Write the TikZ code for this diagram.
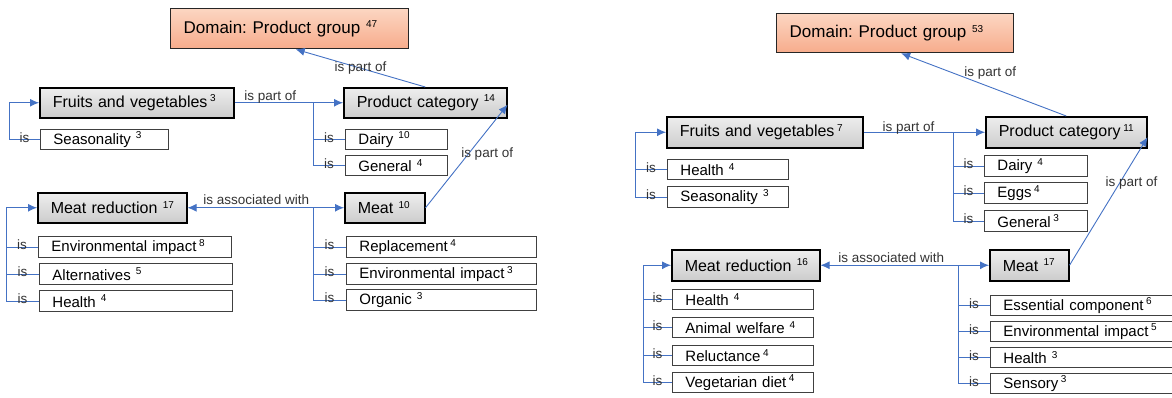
\documentclass[tikz,border=0pt]{standalone}
\usepackage{fontspec}
\setmainfont{Liberation Sans}
\usetikzlibrary{arrows.meta}
\definecolor{linkblue}{RGB}{68,114,196}
\definecolor{cattop}{RGB}{238,238,238}
\definecolor{catbot}{RGB}{204,204,204}
\definecolor{domtop}{RGB}{252,214,194}
\definecolor{dombot}{RGB}{247,172,140}
\tikzset{
  catbox/.style={draw=black, line width=1.5pt, top color=cattop, bottom color=catbot,
    font=\fontsize{16}{18}\selectfont, inner xsep=13pt, inner ysep=0pt, align=left},
  itembox/.style={draw=black!75, line width=0.9pt, fill=white,
    font=\fontsize{15}{17}\selectfont, inner xsep=13pt, inner ysep=0pt, align=left},
  dombox/.style={draw=black!85, line width=1.3pt, top color=domtop, bottom color=dombot,
    font=\fontsize{17}{19}\selectfont, inner xsep=13pt, inner ysep=0pt, align=left},
  link/.style={draw=linkblue, line width=0.9pt},
  ctip/.tip={Latex[length=9pt,width=8pt]},
  lab/.style={font=\fontsize{13.5}{15}\selectfont, text=black!80, inner sep=0pt},
  islab/.style={lab, anchor=base, yshift=-3pt},
  hlab/.style={lab, anchor=base},
}
% box from corner (#3,#4) to corner (#5,#6), text set flush left on one line
\newcommand{\conceptbox}[7]{%
  \pgfmathsetmacro{\bw}{#5-#3}\pgfmathsetmacro{\bh}{#6-#4}%
  \pgfmathsetmacro{\tw}{#5-#3-26}%
  \node[#1, anchor=north west, minimum width=\bw pt, minimum height=\bh pt,
    text width=\tw pt] (#2) at (#3,#4) {\mbox{#7}};}
\newcommand{\freq}[1]{\raisebox{5.5pt}{\fontsize{10}{10}\selectfont #1}}

\begin{document}
\frenchspacing
\begin{tikzpicture}[x=1pt, y=-1pt]
  \clip (0,0) rectangle (1172,397);
  % ---- left map ----
  \conceptbox{dombox}{dom1}{170}{8}{408}{48}{Domain: Product group \freq{47}}
  \conceptbox{catbox}{fv1}{39}{87}{233}{117}{Fruits and vegetables\,\freq{3}}
  \conceptbox{catbox}{pc1}{343}{87}{506}{117}{Product category \freq{14}}
  \conceptbox{itembox}{sea1}{40}{129}{168}{149}{Seasonality \freq{3}}
  \conceptbox{itembox}{dai1}{345}{129}{447}{149}{Dairy \freq{10}}
  \conceptbox{itembox}{gen1}{345}{155}{447}{175}{General \freq{4}}
  \conceptbox{catbox}{mr1}{37}{192}{186}{222}{Meat reduction \freq{17}}
  \conceptbox{catbox}{meat1}{344}{192}{424}{222}{Meat \freq{10}}
  \conceptbox{itembox}{env1}{38}{236}{231}{257}{Environmental impact\,\freq{8}}
  \conceptbox{itembox}{alt1}{39}{263}{232}{284}{Alternatives \freq{5}}
  \conceptbox{itembox}{hea1}{39}{290}{232}{311}{Health \freq{4}}
  \conceptbox{itembox}{rep1}{346}{236}{536}{257}{Replacement\,\freq{4}}
  \conceptbox{itembox}{envm1}{346}{263}{536}{284}{Environmental impact\,\freq{3}}
  \conceptbox{itembox}{org1}{346}{289}{536}{310}{Organic \freq{3}}
  \coordinate (sp1) at (9,0);
  \coordinate (sp2) at (313,0);
  \coordinate (sp3) at (6,0);
  % links
  \draw[link,-ctip] (pc1.north) -- node[lab,pos=.5]{is part of} ([xshift=6pt]dom1.south);
  \draw[link,-ctip] (fv1.east) -- node[hlab,pos=.33,yshift=2pt]{is part of} (pc1.west);
  \draw[link,-ctip] (sea1.west) -- node[islab]{is} (sea1.west -| sp1) |- (fv1.west);
  \draw[link] (dai1.west) -- node[islab]{is} (dai1.west -| sp2);
  \draw[link] (gen1.west) -- node[islab]{is} (gen1.west -| sp2) -- (fv1.east -| sp2);
  \draw[link,ctip-ctip] (mr1.east) -- node[hlab,pos=.44,yshift=3pt]{is associated with} (meat1.west);
  \draw[link,-ctip] (meat1.east) -- node[lab,pos=.52,xshift=19pt]{is part of} ([yshift=-2pt]pc1.east);
  \draw[link] (env1.west) -- node[islab]{is} (env1.west -| sp3);
  \draw[link] (alt1.west) -- node[islab]{is} (alt1.west -| sp3);
  \draw[link,-ctip] (hea1.west) -- node[islab]{is} (hea1.west -| sp3) |- (mr1.west);
  \draw[link] (rep1.west) -- node[islab]{is} (rep1.west -| sp2);
  \draw[link] (envm1.west) -- node[islab]{is} (envm1.west -| sp2);
  \draw[link] (org1.west) -- node[islab]{is} (org1.west -| sp2) -- (meat1.west -| sp2);
  % ---- right map ----
  \conceptbox{dombox}{dom2}{776}{13}{1013}{52}{Domain: Product group \freq{53}}
  \conceptbox{catbox}{fv2}{666}{116}{862}{147}{Fruits and vegetables\,\freq{7}}
  \conceptbox{catbox}{pc2}{985}{116}{1146}{147}{Product category\,\freq{11}}
  \conceptbox{itembox}{hea2}{667}{159}{788}{179}{Health \freq{4}}
  \conceptbox{itembox}{sea2}{667}{186}{788}{207}{Seasonality \freq{3}}
  \conceptbox{itembox}{dai2}{984}{155}{1087}{176}{Dairy \freq{4}}
  \conceptbox{itembox}{egg2}{984}{182}{1087}{203}{Eggs\,\freq{4}}
  \conceptbox{itembox}{gen2}{984}{210}{1087}{231}{General\,\freq{3}}
  \conceptbox{catbox}{mr2}{671}{249}{819}{280}{Meat reduction \freq{16}}
  \conceptbox{catbox}{meat2}{989}{249}{1068}{280}{Meat \freq{17}}
  \conceptbox{itembox}{hea3}{672}{289}{813}{309}{Health \freq{4}}
  \conceptbox{itembox}{ani2}{672}{317}{813}{337}{Animal welfare \freq{4}}
  \conceptbox{itembox}{rel2}{672}{345}{813}{365}{Reluctance\,\freq{4}}
  \conceptbox{itembox}{veg2}{672}{372}{813}{392}{Vegetarian diet\,\freq{4}}
  \conceptbox{itembox}{ess2}{990}{295}{1180}{315}{Essential component\,\freq{6}}
  \conceptbox{itembox}{envm2}{990}{321}{1180}{341}{Environmental impact\,\freq{5}}
  \conceptbox{itembox}{hea4}{990}{347}{1180}{367}{Health \freq{3}}
  \conceptbox{itembox}{sen2}{990}{373}{1180}{393}{Sensory\,\freq{3}}
  \coordinate (sp4) at (635,0);
  \coordinate (sp5) at (953,0);
  \coordinate (sp6) at (643,0);
  \coordinate (sp7) at (958,0);
  % links
  \draw[link,-ctip] (pc2.north) -- node[lab,pos=.46,yshift=14pt]{is part of} ([xshift=6pt]dom2.south);
  \draw[link,-ctip] (fv2.east) -- node[hlab,pos=.37,yshift=1pt]{is part of} (pc2.west);
  \draw[link] (hea2.west) -- node[islab]{is} (hea2.west -| sp4);
  \draw[link,-ctip] (sea2.west) -- node[islab]{is} (sea2.west -| sp4) |- (fv2.west);
  \draw[link] (dai2.west) -- node[islab]{is} (dai2.west -| sp5);
  \draw[link] (egg2.west) -- node[islab]{is} (egg2.west -| sp5);
  \draw[link] (gen2.west) -- node[islab]{is} (gen2.west -| sp5) -- (fv2.east -| sp5);
  \draw[link,ctip-ctip] (mr2.east) -- node[hlab,pos=.42,yshift=3pt]{is associated with} (meat2.west);
  \draw[link,-ctip] (meat2.east) -- node[lab,pos=.64,xshift=12pt]{is part of} ([yshift=-5pt]pc2.east);
  \draw[link] (hea3.west) -- node[islab]{is} (hea3.west -| sp6);
  \draw[link] (ani2.west) -- node[islab]{is} (ani2.west -| sp6);
  \draw[link] (rel2.west) -- node[islab]{is} (rel2.west -| sp6);
  \draw[link,-ctip] (veg2.west) -- node[islab]{is} (veg2.west -| sp6) |- (mr2.west);
  \draw[link] (ess2.west) -- node[islab]{is} (ess2.west -| sp7);
  \draw[link] (envm2.west) -- node[islab]{is} (envm2.west -| sp7);
  \draw[link] (hea4.west) -- node[islab]{is} (hea4.west -| sp7);
  \draw[link] (sen2.west) -- node[islab]{is} (sen2.west -| sp7) -- (meat2.west -| sp7);
\end{tikzpicture}
\end{document}
